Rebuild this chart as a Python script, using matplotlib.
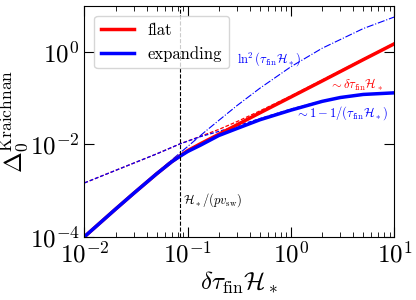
import numpy as np
import matplotlib
matplotlib.use("Agg")
import matplotlib.pyplot as plt
from matplotlib.ticker import LogLocator, NullLocator

plt.rcParams['font.family'] = 'serif'
plt.rcParams['font.serif'] = ['cmr10']
plt.rcParams['mathtext.fontset'] = 'cm'
plt.rcParams['axes.formatter.use_mathtext'] = True
plt.rcParams['axes.unicode_minus'] = False

## données
x_flat = [0.01, 0.02, 0.03, 0.05, 0.07, 0.084, 0.1, 0.132, 0.2, 0.5, 1.0, 2.0, 5.0, 10.0]
y_flat = [1e-4, 3.95e-4, 8.7e-4, 2.3e-3, 4.2e-3, 5.6e-3, 7.3e-3, 0.0102, 0.0165, 0.048, 0.106, 0.235, 0.68, 1.5]

x_exp = [0.01, 0.02, 0.03, 0.05, 0.07, 0.084, 0.1, 0.132, 0.2, 0.3, 0.5, 1.0, 2.0, 3.0, 5.0, 10.0]
y_exp = [1e-4, 3.95e-4, 8.7e-4, 2.3e-3, 4.2e-3, 5.5e-3, 7.0e-3, 0.0095, 0.0155, 0.022, 0.034, 0.055, 0.085, 0.103, 0.12, 0.13]

x_flat_approx = [0.01, 0.05, 0.084, 0.132, 0.2, 0.3, 0.5, 1.0, 10.0]
y_flat_approx = [1.46e-3, 6.2e-3, 0.0102, 0.0148, 0.021, 0.031, 0.053, 0.112, 1.55]

x_exp_approx = [0.01, 0.05, 0.084, 0.132, 0.2, 0.3, 0.5, 1.0, 2.0, 5.0, 10.0]
y_exp_approx = [1.46e-3, 6.2e-3, 0.0102, 0.0146, 0.019, 0.025, 0.036, 0.058, 0.087, 0.121, 0.131]

x_ln2 = [0.01, 0.03, 0.05, 0.07, 0.1, 0.15, 0.2, 0.3, 0.5, 1.0, 2.0, 5.0, 10.0]
y_ln2 = [1e-4, 8.7e-4, 2.4e-3, 4.6e-3, 9e-3, 0.0195, 0.033, 0.069, 0.164, 0.48, 1.2, 3.2, 5.7]

x_vert = 0.084

fig = plt.figure(figsize=(4.16, 3.0), dpi=100)
ax = fig.add_axes([0.203, 0.211, 0.745, 0.77])

ax.plot(x_flat_approx, y_flat_approx, '--', color='red', lw=0.9, dashes=(3, 1.5))
ax.plot(x_exp_approx, y_exp_approx, '--', color='blue', lw=0.9, dashes=(3, 1.5))
ax.plot(x_ln2, y_ln2, '-.', color='blue', lw=0.8)
ax.plot(x_flat, y_flat, color='red', lw=2.5, label='flat')
ax.plot(x_exp, y_exp, color='blue', lw=2.5, label='expanding')
ax.axvline(x_vert, color='black', ls='--', lw=0.8)

ax.set_xscale('log')
ax.set_yscale('log')
ax.set_xlim(1e-2, 1e1)
ax.set_ylim(1e-4, 1e1)
ax.yaxis.set_major_locator(LogLocator(base=100))
ax.yaxis.set_minor_locator(NullLocator())
ax.tick_params(which='both', direction='in', top=True, right=True, labelsize=18)
ax.tick_params(which='major', length=7)
ax.tick_params(which='minor', length=3.5)

ax.set_xlabel(r'$\delta\tau_{\rm fin}\mathcal{H}_*$', fontsize=18, labelpad=2)
ax.set_ylabel(r'$\Delta_0^{\rm Kraichnan}$', fontsize=18, labelpad=0)

ax.text(0.09, 6.3e-4, r'$\mathcal{H}_*/(p v_{\rm sw})$', fontsize=9, va='center')
ax.text(1.25, 0.7, r'$\ln^2(\tau_{\rm fin}\mathcal{H}_*)$', color='blue', fontsize=9, ha='right', va='center')
ax.text(7.8, 0.195, r'$\sim\delta\tau_{\rm fin}\mathcal{H}_*$', color='red', fontsize=9, ha='right', va='center')
ax.text(8.7, 0.048, r'$\sim 1-1/(\tau_{\rm fin}\mathcal{H}_*)$', color='blue', fontsize=9, ha='right', va='center')

ax.legend(loc='upper left', fontsize=12, handlelength=2.0, borderaxespad=0.6)

plt.savefig('out.png', dpi=100)
